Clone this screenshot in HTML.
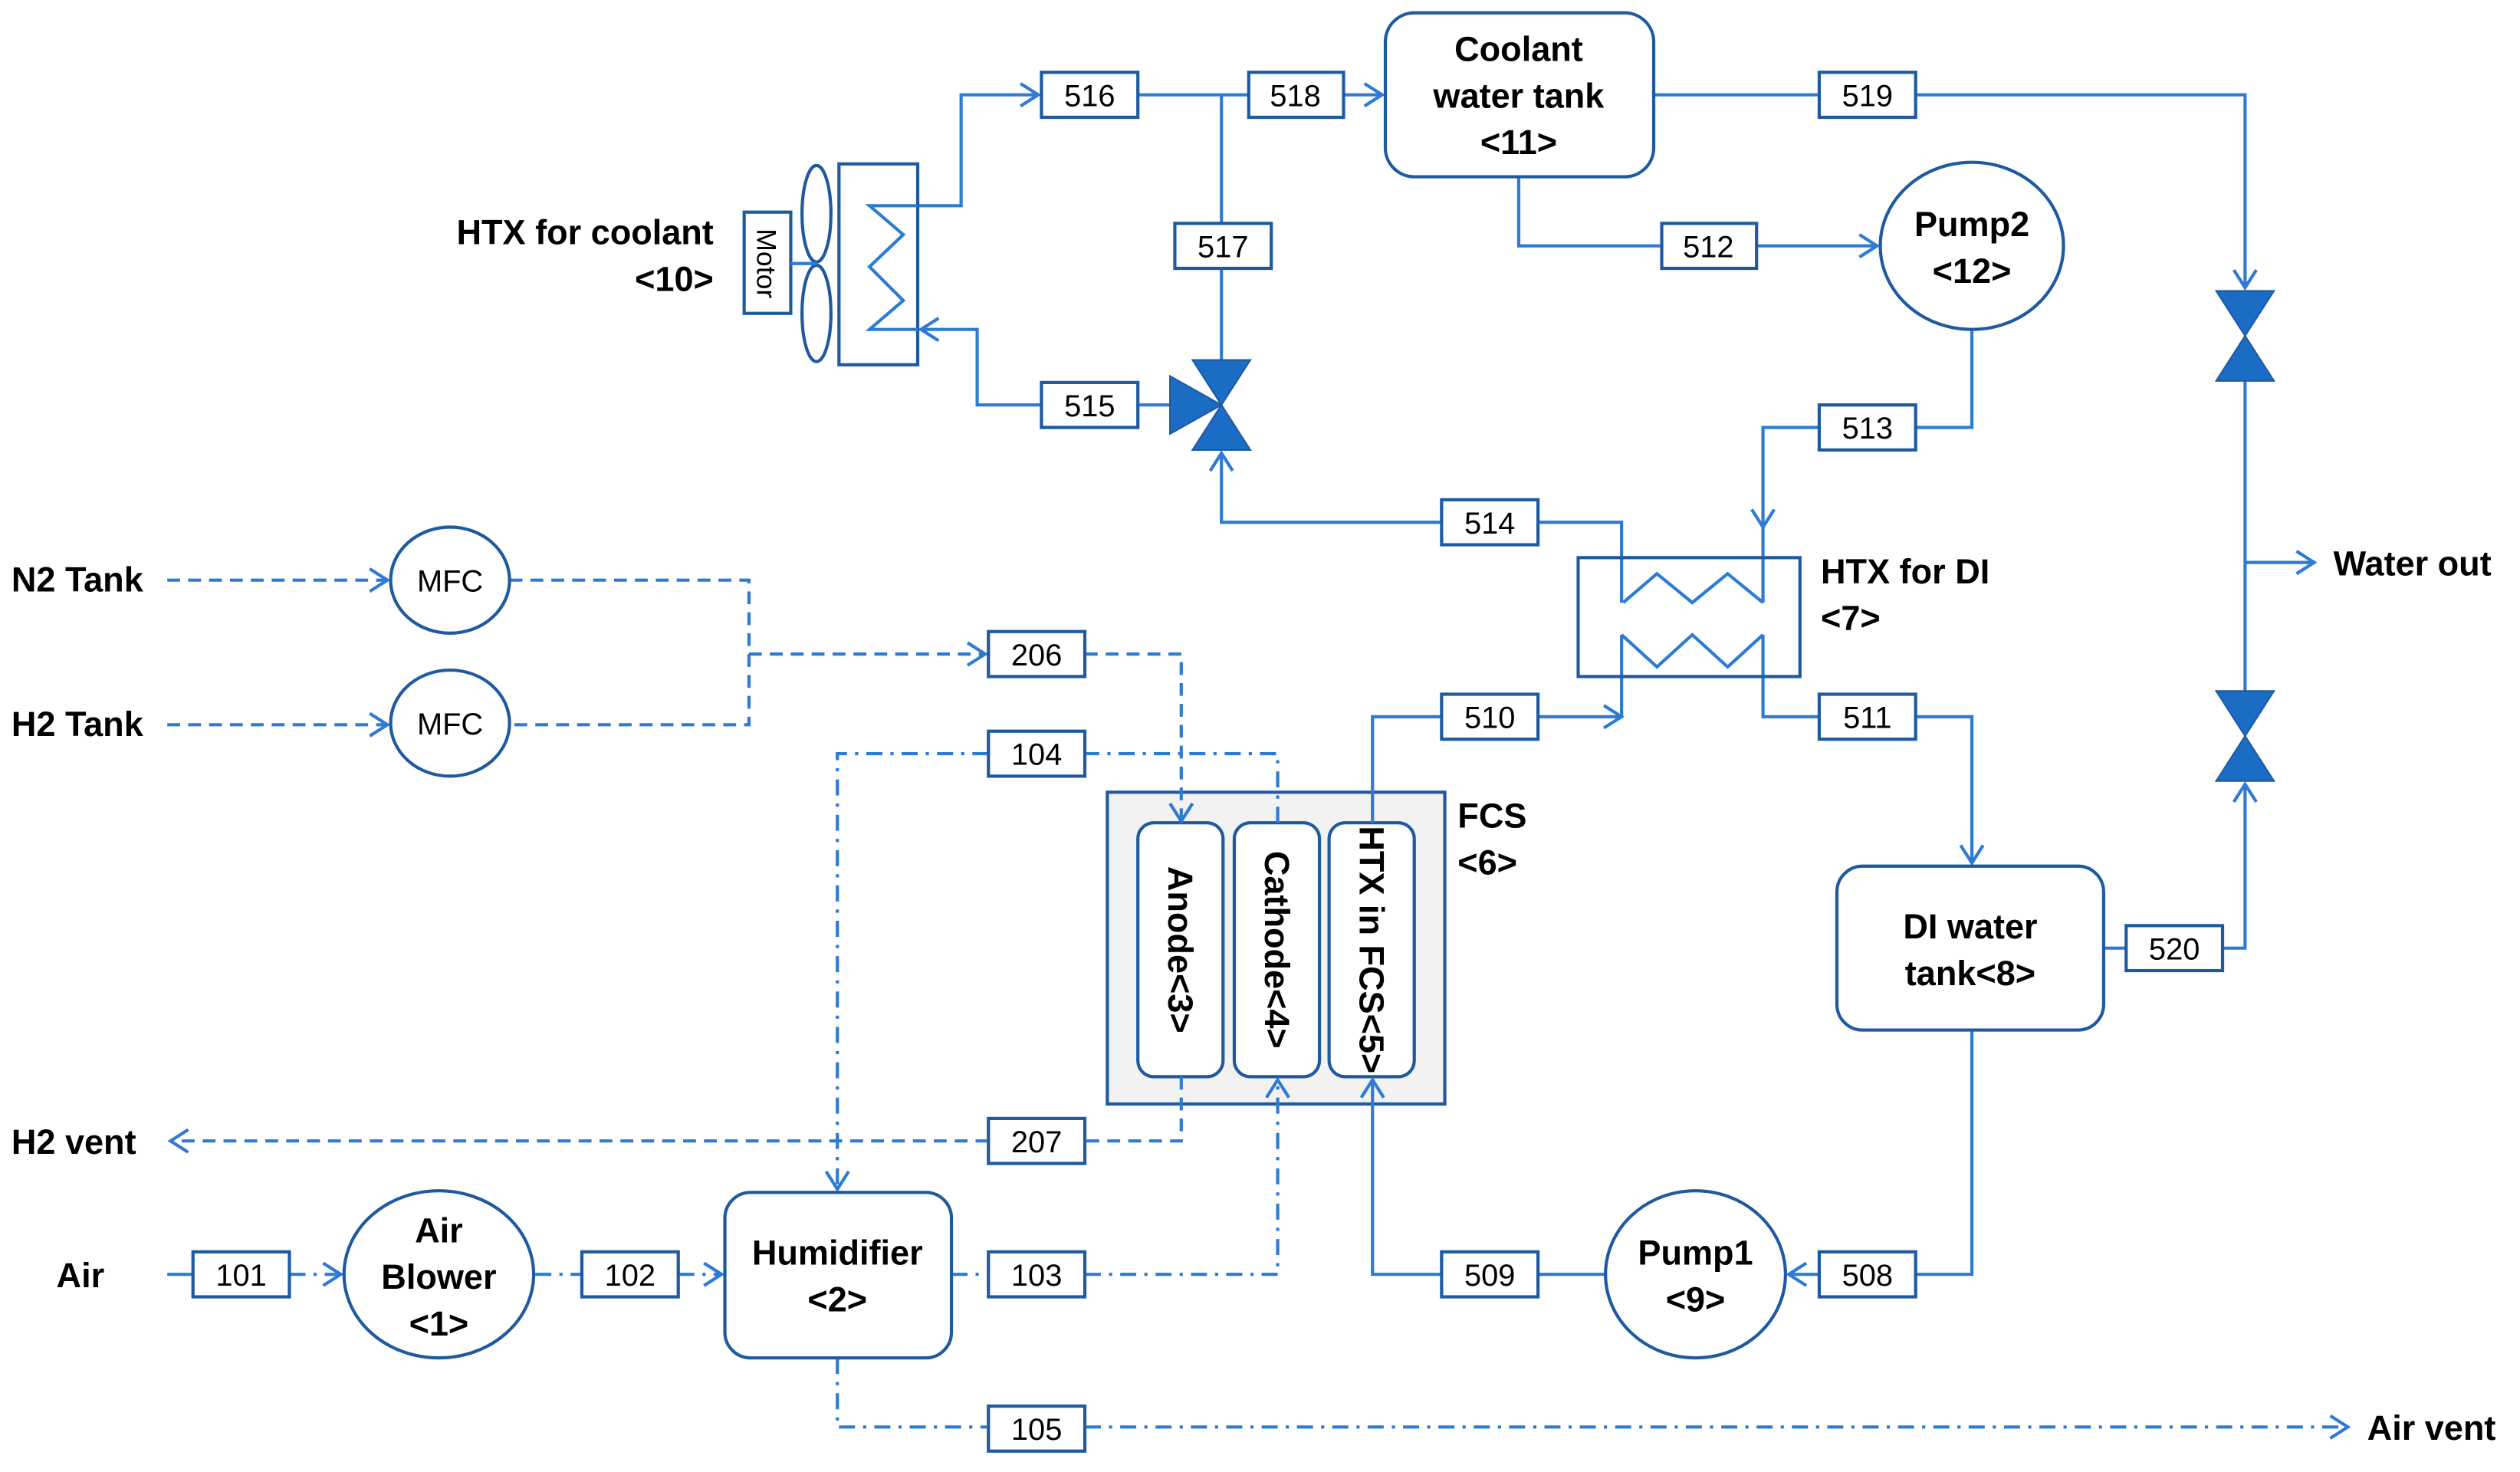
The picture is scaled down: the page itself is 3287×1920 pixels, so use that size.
<!DOCTYPE html>
<html><head><meta charset="utf-8"><style>
html,body{margin:0;padding:0;background:#fff;}
svg{display:block;}
text{font-family:"Liberation Sans",Arial,sans-serif;}
.b{font-weight:bold;font-size:21.5px;fill:#000;}
.n{font-size:19px;fill:#000;}
</style></head><body>
<svg width="3287" height="1920" viewBox="0 0 1568 916" xmlns="http://www.w3.org/2000/svg">
<defs>
<marker id="a" markerUnits="userSpaceOnUse" markerWidth="16" markerHeight="16" refX="14" refY="8" orient="auto">
<path d="M3,1 L14,8 L3,15" fill="none" stroke="#2e7bd4" stroke-width="2"/>
</marker>
</defs>
<!-- FCS first so connectors sit on top -->
<g stroke="#1f5aa0" stroke-width="2" fill="#fff">
<rect x="689" y="493" width="210" height="194" fill="#f2f2f2"/>
<rect x="708" y="512" width="53" height="158" rx="10"/>
<rect x="768" y="512" width="53" height="158" rx="10"/>
<rect x="827" y="512" width="53" height="158" rx="10"/>
</g>
<g fill="none" stroke="#2e7bd4" stroke-width="2">
<polyline points="571,128 598,128 598,59 646,59" marker-end="url(#a)"/>
<line x1="708" y1="59" x2="777" y2="59"/>
<line x1="836" y1="59" x2="860" y2="59" marker-end="url(#a)"/>
<line x1="760" y1="59" x2="760" y2="139"/>
<line x1="760" y1="167" x2="760" y2="224"/>
<line x1="728" y1="252" x2="708" y2="252"/>
<polyline points="648,252 608,252 608,205 573,205" marker-end="url(#a)"/>
<polyline points="897,325 760,325 760,282" marker-end="url(#a)"/>
<polyline points="957,325 1009,325 1009,375"/>
<line x1="1029" y1="59" x2="1132" y2="59"/>
<polyline points="1192,59 1397,59 1397,179" marker-end="url(#a)"/>
<polyline points="945,110 945,153 1034,153"/>
<line x1="1093" y1="153" x2="1168" y2="153" marker-end="url(#a)"/>
<polyline points="1227,205 1227,266 1192,266"/>
<polyline points="1132,266 1097,266 1097,328" marker-end="url(#a)"/>
<line x1="1097" y1="328" x2="1097" y2="375"/>
<line x1="1397" y1="237" x2="1397" y2="430"/>
<line x1="1397" y1="350" x2="1440" y2="350" marker-end="url(#a)"/>
<polyline points="854,512 854,446 897,446"/>
<line x1="957" y1="446" x2="1009" y2="446" marker-end="url(#a)"/>
<line x1="1009" y1="446" x2="1009" y2="395"/>
<polyline points="1097,395 1097,446 1132,446"/>
<polyline points="1192,446 1227,446 1227,537" marker-end="url(#a)"/>
<line x1="1309" y1="590" x2="1323" y2="590"/>
<polyline points="1383,590 1397,590 1397,488" marker-end="url(#a)"/>
<polyline points="1227,641 1227,793 1192,793"/>
<line x1="1132" y1="793" x2="1113" y2="793" marker-end="url(#a)"/>
<line x1="999" y1="793" x2="957" y2="793"/>
<polyline points="897,793 854,793 854,672" marker-end="url(#a)"/>
<g stroke-dasharray="8 5">
<line x1="104" y1="361" x2="241" y2="361" marker-end="url(#a)"/>
<line x1="104" y1="451" x2="241" y2="451" marker-end="url(#a)"/>
<polyline points="317,361 466,361 466,451 317,451"/>
<line x1="466" y1="407" x2="613" y2="407" marker-end="url(#a)"/>
<polyline points="675,407 735,407 735,511" marker-end="url(#a)"/>
<polyline points="735,670 735,710 675,710"/>
<line x1="615" y1="710" x2="106" y2="710" marker-end="url(#a)"/>
</g>
<g stroke-dasharray="10 5 2 5">
<polyline points="795,512 795,469 675,469"/>
<polyline points="615,469 521,469 521,740" marker-end="url(#a)"/>
<line x1="180" y1="793" x2="212" y2="793" marker-end="url(#a)"/>
<line x1="333" y1="793" x2="362" y2="793"/>
<line x1="422" y1="793" x2="449" y2="793" marker-end="url(#a)"/>
<line x1="592" y1="793" x2="615" y2="793"/>
<polyline points="675,793 795,793 795,672" marker-end="url(#a)"/>
<polyline points="521,845 521,888 615,888"/>
<line x1="675" y1="888" x2="1461" y2="888" marker-end="url(#a)"/>
</g>
<line x1="104" y1="793" x2="120" y2="793"/>
</g>

<g stroke="#1f5aa0" stroke-width="2" fill="#fff">
<rect x="862" y="8" width="167" height="102" rx="18"/>
<ellipse cx="1227" cy="153" rx="57" ry="52"/>
<rect x="1143" y="539" width="166" height="102" rx="16"/>
<ellipse cx="1055" cy="793" rx="56" ry="52"/>
<rect x="451" y="742" width="141" height="103" rx="16"/>
<ellipse cx="273" cy="793" rx="59" ry="52"/>
<ellipse cx="280" cy="361" rx="37" ry="33"/>
<ellipse cx="280" cy="450" rx="37" ry="33"/>
<rect x="982" y="347" width="138" height="74" fill="none"/>
<rect x="522" y="102" width="49" height="125" fill="none"/>
<ellipse cx="508" cy="133" rx="9" ry="30" fill="none"/>
<ellipse cx="508" cy="195" rx="9" ry="30" fill="none"/>
<rect x="463" y="132" width="29" height="63"/>
</g>
<g fill="none" stroke="#2e7bd4" stroke-width="2">
<polyline points="1010,375 1031,357 1053,375 1075,357 1097,375"/>
<polyline points="1009,395 1031,415 1053,395 1075,415 1097,395"/>
<polyline points="571,128 541,128 562,146 541,166 562,187 541,205 571,205"/>
<line x1="492" y1="164" x2="508" y2="164"/>
</g>
<g fill="#1a6cc4" stroke="#1f5aa0" stroke-width="1">
<polygon points="1379,181 1415,181 1397,209 1379,237 1415,237 1397,209"/>
<polygon points="1379,430 1415,430 1397,458 1379,486 1415,486 1397,458"/>
<polygon points="742,224 778,224 760,252 742,280 778,280 760,252"/>
<polygon points="728,234 760,252 728,270"/>
</g>

<g stroke="#1f5aa0" stroke-width="2" fill="#fff">
<rect x="648" y="45" width="60" height="28"/><rect x="777" y="45" width="59" height="28"/>
<rect x="1132" y="45" width="60" height="28"/><rect x="731" y="139" width="60" height="28"/>
<rect x="1034" y="139" width="59" height="28"/><rect x="648" y="238" width="60" height="28"/>
<rect x="1132" y="252" width="60" height="28"/><rect x="897" y="311" width="60" height="28"/>
<rect x="615" y="393" width="60" height="28"/><rect x="615" y="455" width="60" height="28"/>
<rect x="897" y="432" width="60" height="28"/><rect x="1132" y="432" width="60" height="28"/>
<rect x="1323" y="576" width="60" height="28"/><rect x="615" y="696" width="60" height="28"/>
<rect x="120" y="779" width="60" height="28"/><rect x="362" y="779" width="60" height="28"/>
<rect x="615" y="779" width="60" height="28"/><rect x="897" y="779" width="60" height="28"/>
<rect x="1132" y="779" width="60" height="28"/><rect x="615" y="875" width="60" height="28"/>
</g>
<g class="n" text-anchor="middle">
<text x="678" y="66">516</text><text x="806" y="66">518</text><text x="1162" y="66">519</text>
<text x="761" y="160">517</text><text x="1063" y="160">512</text><text x="678" y="259">515</text>
<text x="1162" y="273">513</text><text x="927" y="332">514</text><text x="645" y="414">206</text>
<text x="645" y="476">104</text><text x="927" y="453">510</text><text x="1162" y="453">511</text>
<text x="1353" y="597">520</text><text x="645" y="717">207</text><text x="150" y="800">101</text>
<text x="392" y="800">102</text><text x="645" y="800">103</text><text x="927" y="800">509</text>
<text x="1162" y="800">508</text><text x="645" y="896">105</text>
</g>

<g class="b" text-anchor="middle">
<text x="945" y="38">Coolant</text><text x="945" y="67">water tank</text><text x="945" y="96">&lt;11&gt;</text>
<text x="1227" y="147">Pump2</text><text x="1227" y="176">&lt;12&gt;</text>
<text x="1226" y="584">DI water</text><text x="1226" y="613">tank&lt;8&gt;</text>
<text x="1055" y="787">Pump1</text><text x="1055" y="816">&lt;9&gt;</text>
<text x="521" y="787">Humidifier</text><text x="521" y="816">&lt;2&gt;</text>
<text x="273" y="773">Air</text><text x="273" y="802">Blower</text><text x="273" y="831">&lt;1&gt;</text>
</g>
<g class="n" text-anchor="middle">
<text x="280" y="368">MFC</text><text x="280" y="457">MFC</text>
<text transform="translate(471,164) rotate(90)" style="font-size:17px">Motor</text>
</g>
<g class="b" text-anchor="middle">
<text transform="translate(727,591) rotate(90)">Anode&lt;3&gt;</text>
<text transform="translate(787,591) rotate(90)">Cathode&lt;4&gt;</text>
<text transform="translate(846,591) rotate(90)">HTX in FCS&lt;5&gt;</text>
</g>
<g class="b">
<text x="444" y="152" text-anchor="end">HTX for coolant</text>
<text x="444" y="181" text-anchor="end">&lt;10&gt;</text>
<text x="1133" y="363">HTX for DI</text><text x="1133" y="392">&lt;7&gt;</text>
<text x="907" y="515">FCS</text><text x="907" y="544">&lt;6&gt;</text>
<text x="1452" y="358">Water out</text>
<text x="1473" y="896">Air vent</text>
<text x="7" y="368">N2 Tank</text><text x="7" y="458">H2 Tank</text>
<text x="7" y="718">H2 vent</text><text x="35" y="801">Air</text>
</g>
</svg>
</body></html>
